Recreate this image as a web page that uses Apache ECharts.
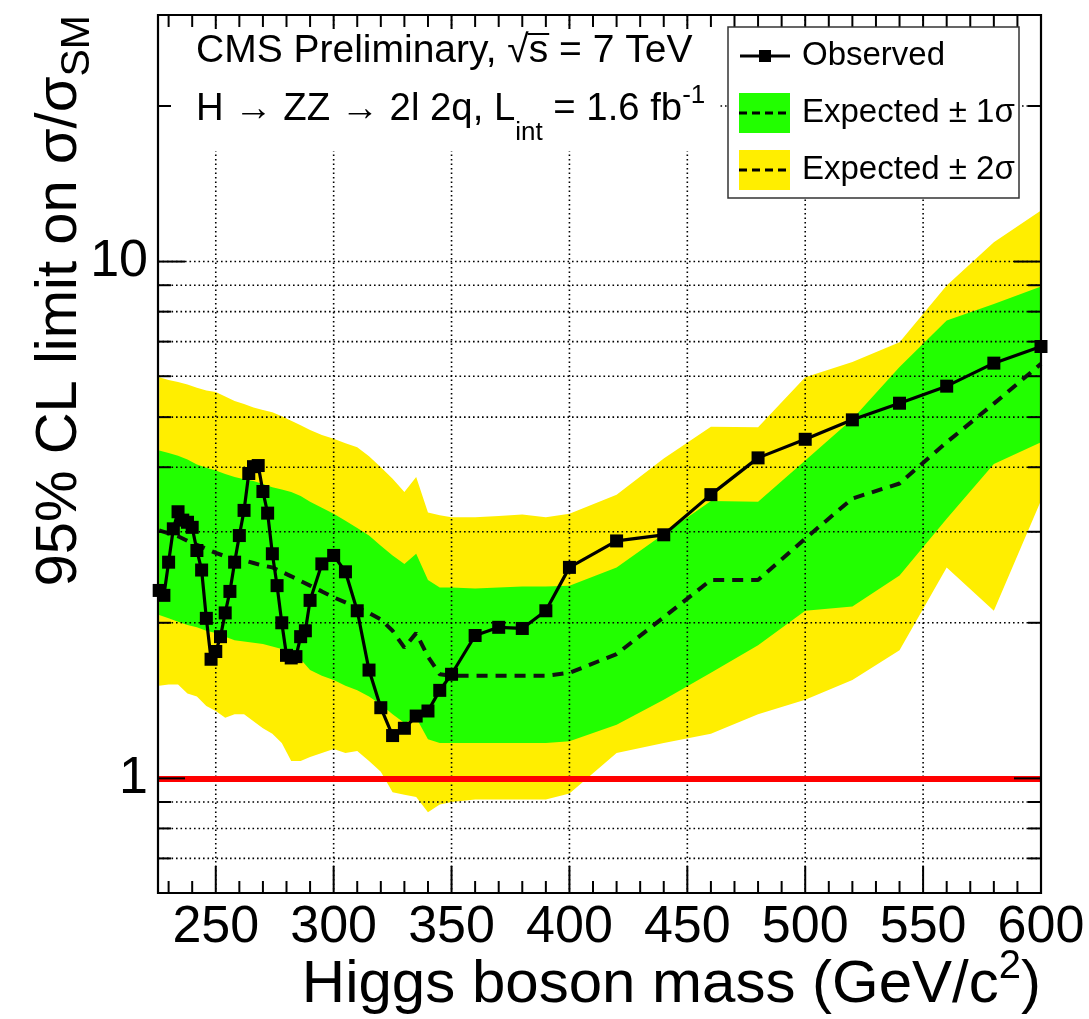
<!DOCTYPE html>
<html>
<head>
<meta charset="utf-8">
<script src="https://cdn.jsdelivr.net/npm/echarts@6/dist/echarts.min.js"></script>
<style>
  html, body { margin: 0; padding: 0; background: #fff; }
  #chart { width: 1089px; height: 1019px; }
</style>
</head>
<body>
<div id="chart"></div>
<script>
// Observed 95% CL upper limit on sigma/sigma_SM versus Higgs mass
const obsMass = [226,228,230,232,234,236,238,240,242,244,246,248,250,252,254,256,258,260,262,264,266,268,270,272,274,276,278,280,282,284,286,288,290,
                 295,300,305,310,315,320,325,330,335,340,345,350,360,370,380,390,400,420,440,460,480,500,520,540,560,580,600];
const obsLimit = [2.31,2.26,2.62,3.04,3.28,3.16,3.13,3.06,2.76,2.53,2.04,1.70,1.76,1.88,2.09,2.30,2.62,2.95,3.30,3.89,4.01,4.03,3.59,3.26,2.72,2.36,2.00,1.73,1.71,1.72,1.88,1.93,2.21,
                  2.60,2.70,2.51,2.11,1.62,1.37,1.21,1.25,1.32,1.35,1.48,1.59,1.89,1.96,1.95,2.11,2.56,2.88,2.96,3.54,4.17,4.53,4.94,5.32,5.74,6.36,6.85];

// Expected limit (median) and its 1 and 2 sigma bands
const expMass = [226,230,234,238,242,246,250,254,258,262,266,270,274,278,282,286,290,295,300,305,310,315,320,325,330,335,340,345,350,360,370,380,390,400,420,440,460,480,500,520,540,560,580,600];
const expMedian = [3.02,2.98,2.94,2.88,2.83,2.78,2.73,2.69,2.66,2.64,2.61,2.58,2.56,2.51,2.46,2.41,2.36,2.30,2.24,2.19,2.14,2.09,2.03,1.93,1.79,1.91,1.72,1.59,1.58,1.58,1.58,1.58,1.58,1.60,1.74,2.05,2.42,2.42,2.91,3.48,3.72,4.47,5.31,6.34];
const exp1Hi = [4.31,4.26,4.21,4.14,4.05,3.99,3.94,3.88,3.83,3.79,3.76,3.71,3.66,3.62,3.58,3.52,3.43,3.34,3.25,3.15,3.05,2.95,2.82,2.70,2.60,2.72,2.42,2.34,2.34,2.33,2.34,2.35,2.35,2.36,2.56,2.97,3.44,3.43,4.12,4.96,6.25,7.69,8.28,8.95];
const exp1Lo = [2.07,2.04,2.01,1.98,1.96,1.93,1.91,1.88,1.85,1.84,1.83,1.82,1.80,1.78,1.75,1.70,1.62,1.58,1.55,1.51,1.48,1.44,1.39,1.33,1.28,1.31,1.19,1.17,1.17,1.17,1.17,1.17,1.17,1.18,1.27,1.42,1.60,1.81,2.11,2.15,2.47,3.18,4.06,4.47];
const exp2Hi = [5.97,5.90,5.85,5.78,5.70,5.63,5.59,5.48,5.37,5.30,5.22,5.16,5.11,5.02,4.92,4.82,4.72,4.62,4.54,4.45,4.37,4.20,4.00,3.80,3.58,3.83,3.27,3.23,3.20,3.20,3.22,3.24,3.20,3.25,3.54,4.16,4.79,4.78,5.97,6.39,6.98,8.99,10.9,12.55];
const exp2Lo = [1.51,1.52,1.52,1.46,1.44,1.38,1.35,1.31,1.33,1.33,1.29,1.25,1.22,1.17,1.08,1.08,1.10,1.12,1.14,1.12,1.13,1.08,1.03,0.94,0.93,0.92,0.86,0.89,0.90,0.91,0.91,0.91,0.91,0.935,1.12,1.17,1.22,1.33,1.42,1.55,1.77,2.56,2.11,3.45];

// Standard Model reference level
const smLimit = 1;

// Axis ticks, labels and grid
const massLabels = [250,300,350,400,450,500,550,600];
const massMinorTicks = [230,240,260,270,280,290,310,320,330,340,360,370,380,390,410,420,430,440,460,470,480,490,510,520,530,540,560,570,580,590];
const limitMajorTicks = [1,10];
const limitMinorTicks = [0.7,0.8,0.9,2,3,4,5,6,7,8,9,20];
const gridMasses = [250,300,350,400,450,500,550];
const gridLimits = [0.7,0.8,0.9,2,3,4,5,6,7,8,9,10,20];

const FONT = '"Liberation Sans", Arial, Helvetica, sans-serif';
const YELLOW = '#FFEE00';
const GREEN = '#22FF00';

const measureCtx = document.createElement('canvas').getContext('2d');
function textWidth(str, size) {
  measureCtx.font = size + 'px "Liberation Sans"';
  return measureCtx.measureText(str).width;
}
// Lays out text pieces (text, size, baseline shift) one after another on a baseline
function latexLine(parts, x, baseline, z) {
  let cx = x;
  const els = [];
  parts.forEach(([t, s, dy]) => {
    els.push({
      type: 'text', x: cx, y: baseline + dy - 0.3465 * s, z: z || 100,
      style: { text: t, fontSize: s, fontFamily: FONT, fill: '#000', verticalAlign: 'middle', align: 'left' }
    });
    cx += textWidth(t, s);
  });
  return { els, width: cx - x };
}
function partsWidth(parts) {
  return parts.reduce((w, [t, s]) => w + textWidth(t, s), 0);
}

const chart = echarts.init(document.getElementById('chart'), null, { renderer: 'canvas' });

const MASS_MIN = 225.5, MASS_MAX = 600;
const LIM_MIN = 0.6, LIM_MAX = 30;

function bandSeries(lo, hi, color, z) {
  return {
    type: 'custom', z, silent: true,
    data: [[expMass[0], lo[0]]],
    renderItem(params, api) {
      const pts = [];
      for (let i = 0; i < expMass.length; i++) pts.push(api.coord([expMass[i], hi[i]]));
      for (let i = expMass.length - 1; i >= 0; i--) pts.push(api.coord([expMass[i], lo[i]]));
      return { type: 'polygon', shape: { points: pts }, style: { fill: color } };
    }
  };
}

const dotted = { stroke: '#000', lineWidth: 1.6, lineDash: [1.6, 2.9] };

const xTickData = massLabels.map(m => [m, 1, 1]).concat(massMinorTicks.map(m => [m, 1, 0]));
const yTickData = limitMajorTicks.map(v => [400, v, 1]).concat(limitMinorTicks.map(v => [400, v, 0]));

// Title block
const TS = 39, TS2 = 38.3, TSS = 26;
const line1a = [['CMS Preliminary, √', TS, 0]];
const line1Parts = [['CMS Preliminary, √', TS, 0], ['s', TS, 0], [' = 7 TeV', TS, 0]];
const line2Parts = [['H → ZZ → 2l 2q, L', TS2, 0], ['int', TSS, 19], [' = 1.6 fb', TS2, 0], ['-1', TSS, -18]];
const titleX = 196;
const t1 = latexLine(line1Parts, titleX, 65, 101);
const t2 = latexLine(line2Parts, titleX, 123, 101);
const sqrtEnd = titleX + partsWidth(line1a);
const sEnd = sqrtEnd + textWidth('s', TS);

// Axis titles
const xTitleParts = [['Higgs boson mass (GeV/c', 60, 0], ['2', 40, -25], [')', 60, 0]];
const xTitleW = partsWidth(xTitleParts);
const xTitle = latexLine(xTitleParts, 1041 - xTitleW, 1006, 100);

const yTitleParts = [['95% CL limit on σ/σ', 58, 0], ['SM', 41, 12]];
const yTitleW = partsWidth(yTitleParts);
const yTitle = latexLine(yTitleParts, 0, 0, 100);

const legendFont = 33;

const option = {
  animation: false,
  backgroundColor: '#fff',
  grid: { left: 158, top: 15, width: 883, height: 878, show: false },
  xAxis: {
    type: 'value', min: MASS_MIN, max: MASS_MAX,
    axisLine: { show: false }, axisTick: { show: false }, splitLine: { show: false },
    axisLabel: { customValues: massLabels, fontSize: 52, fontFamily: FONT, color: '#000', margin: 9 }
  },
  yAxis: {
    type: 'log', logBase: 10, min: LIM_MIN, max: LIM_MAX,
    axisLine: { show: false }, axisTick: { show: false }, splitLine: { show: false },
    axisLabel: {
      fontSize: 52, fontFamily: FONT, color: '#000', margin: 10,
      formatter(v) {
        const l = Math.log10(v), r = Math.round(l);
        return (Math.abs(l - r) < 1e-6 && (r === 0 || r === 1)) ? String(Math.round(v)) : '';
      }
    }
  },
  series: [
    bandSeries(exp2Lo, exp2Hi, YELLOW, 1),
    bandSeries(exp1Lo, exp1Hi, GREEN, 1),
    {
      // dotted grid, vertical
      type: 'custom', z: 2, silent: true,
      data: gridMasses.map(m => [m, 1]),
      renderItem(params, api) {
        const cs = params.coordSys;
        const x = api.coord([api.value(0), 1])[0];
        return { type: 'line', shape: { x1: x, y1: cs.y, x2: x, y2: cs.y + cs.height }, style: dotted };
      }
    },
    {
      // dotted grid, horizontal
      type: 'custom', z: 2, silent: true,
      data: gridLimits.map(v => [400, v]),
      renderItem(params, api) {
        const cs = params.coordSys;
        const y = api.coord([400, api.value(1)])[1];
        return { type: 'line', shape: { x1: cs.x, y1: y, x2: cs.x + cs.width, y2: y }, style: dotted };
      }
    },
    {
      name: 'Expected', type: 'line', z: 4, silent: true,
      data: expMass.map((m, i) => [m, expMedian[i]]),
      symbol: 'none',
      lineStyle: { color: '#111', width: 4, type: [11, 8] },
      markLine: {
        silent: true, symbol: ['none', 'none'], label: { show: false },
        lineStyle: { color: '#FF0000', width: 6, type: 'solid' },
        emphasis: { disabled: true },
        data: [{ yAxis: smLimit }]
      }
    },
    {
      name: 'Observed', type: 'line', z: 5, silent: true, clip: false,
      data: obsMass.map((m, i) => [m, obsLimit[i]]),
      symbol: 'rect', symbolSize: 13,
      itemStyle: { color: '#000' },
      lineStyle: { color: '#000', width: 3.2 }
    },
    {
      // inner ticks on the mass axis, bottom and top
      type: 'custom', z: 6, silent: true,
      data: xTickData,
      renderItem(params, api) {
        const cs = params.coordSys;
        const x = api.coord([api.value(0), 1])[0];
        const len = api.value(2) ? 27 : 12;
        const st = { stroke: '#000', lineWidth: 2 };
        return { type: 'group', children: [
          { type: 'line', shape: { x1: x, y1: cs.y + cs.height, x2: x, y2: cs.y + cs.height - len }, style: st },
          { type: 'line', shape: { x1: x, y1: cs.y, x2: x, y2: cs.y + len }, style: st }
        ] };
      }
    },
    {
      // inner ticks on the limit axis, left and right
      type: 'custom', z: 6, silent: true,
      data: yTickData,
      renderItem(params, api) {
        const cs = params.coordSys;
        const y = api.coord([400, api.value(1)])[1];
        const len = api.value(2) ? 27 : 13;
        const st = { stroke: '#000', lineWidth: 2 };
        return { type: 'group', children: [
          { type: 'line', shape: { x1: cs.x, y1: y, x2: cs.x + len, y2: y }, style: st },
          { type: 'line', shape: { x1: cs.x + cs.width, y1: y, x2: cs.x + cs.width - len, y2: y }, style: st }
        ] };
      }
    },
    {
      // frame
      type: 'custom', z: 7, silent: true,
      data: [[400, 1]],
      renderItem(params) {
        const cs = params.coordSys;
        return { type: 'rect', shape: { x: cs.x, y: cs.y, width: cs.width, height: cs.height },
                 style: { fill: 'none', stroke: '#000', lineWidth: 2.2 } };
      }
    }
  ],
  graphic: [
    // title block background
    { type: 'rect', z: 99, shape: { x: 171, y: 29, width: 548, height: 122 }, style: { fill: '#fff' }, silent: true },
    ...t1.els,
    { type: 'line', z: 101, shape: { x1: sqrtEnd - 1, y1: 65 - 31, x2: sEnd + 1, y2: 65 - 31 }, style: { stroke: '#000', lineWidth: 2 } },
    ...t2.els,
    // legend
    { type: 'rect', z: 99, shape: { x: 728, y: 27, width: 291, height: 171 }, style: { fill: '#fff', stroke: '#333', lineWidth: 1.5 }, silent: true },
    { type: 'line', z: 101, shape: { x1: 740, y1: 56, x2: 790, y2: 56 }, style: { stroke: '#000', lineWidth: 3 } },
    { type: 'rect', z: 101, shape: { x: 759, y: 50, width: 12, height: 12 }, style: { fill: '#000' } },
    { type: 'rect', z: 101, shape: { x: 739, y: 93, width: 51, height: 40 }, style: { fill: GREEN } },
    { type: 'line', z: 102, shape: { x1: 739, y1: 113, x2: 790, y2: 113 }, style: { stroke: '#000', lineWidth: 3, lineDash: [8, 5] } },
    { type: 'rect', z: 101, shape: { x: 739, y: 150, width: 51, height: 40 }, style: { fill: YELLOW } },
    { type: 'line', z: 102, shape: { x1: 739, y1: 170, x2: 790, y2: 170 }, style: { stroke: '#000', lineWidth: 3, lineDash: [8, 5] } },
    { type: 'text', z: 101, x: 802, y: 56, style: { text: 'Observed', fontSize: legendFont, fontFamily: FONT, fill: '#000', verticalAlign: 'middle' } },
    { type: 'text', z: 101, x: 802, y: 113, style: { text: 'Expected ± 1σ', fontSize: legendFont, fontFamily: FONT, fill: '#000', verticalAlign: 'middle' } },
    { type: 'text', z: 101, x: 802, y: 170, style: { text: 'Expected ± 2σ', fontSize: legendFont, fontFamily: FONT, fill: '#000', verticalAlign: 'middle' } },
    // axis titles
    ...xTitle.els,
    { type: 'group', x: 80, y: 15 + yTitleW, rotation: Math.PI / 2, children: yTitle.els }
  ]
};

chart.setOption(option);
</script>
</body>
</html>
